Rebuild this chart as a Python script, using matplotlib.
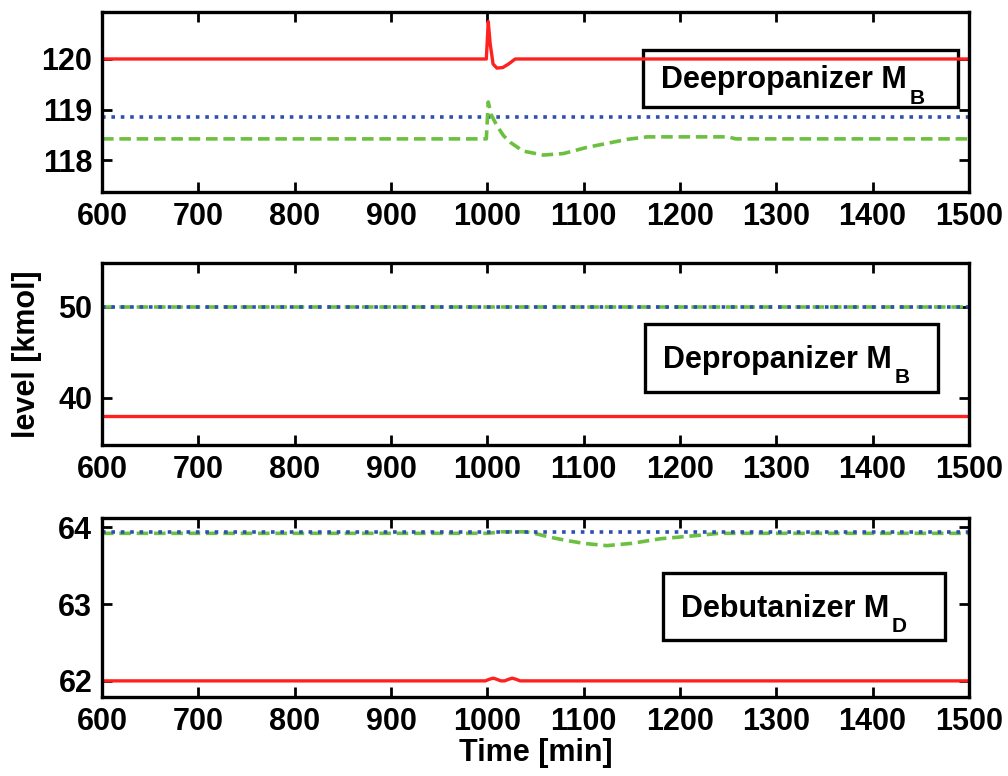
import matplotlib
matplotlib.use('Agg')
import matplotlib.pyplot as plt
from matplotlib.patches import Rectangle

plt.rcParams['font.family'] = ['Liberation Sans', 'DejaVu Sans']
plt.rcParams['font.weight'] = 'bold'

# time grid for steady lines
t_flat = [600, 1500]

# deepropanizer bottom holdup
dp_red_t = [600, 999, 1001, 1003, 1006, 1010, 1016, 1022, 1029, 1500]
dp_red_v = [120.0, 120.0, 120.74, 120.3, 119.9, 119.82, 119.83, 119.9, 120.0, 120.0]
dp_blue_v = [118.86, 118.86]
dp_green_t = [600, 999, 1001, 1004, 1010, 1017, 1024, 1037, 1058, 1079, 1103,
              1124, 1145, 1166, 1250, 1258, 1500]
dp_green_v = [118.42, 118.42, 119.15, 118.9, 118.68, 118.48, 118.35, 118.18, 118.1,
              118.13, 118.25, 118.33, 118.41, 118.46, 118.46, 118.42, 118.42]

# depropanizer bottom holdup
dq_red_v = [38.0, 38.0]
dq_blue_v = [50.0, 50.0]
dq_green_v = [50.0, 50.0]

# debutanizer distillate holdup
db_red_t = [600, 998, 1002, 1006, 1010, 1014, 1018, 1022, 1026, 1030, 1034, 1500]
db_red_v = [62.0, 62.0, 62.02, 62.035, 62.02, 62.0, 62.0, 62.02, 62.035, 62.02, 62.0, 62.0]
db_blue_v = [63.94, 63.94]
db_green_t = [600, 1000, 1015, 1040, 1049, 1065, 1081, 1100, 1124, 1150, 1180,
              1207, 1225, 1240, 1500]
db_green_v = [63.92, 63.92, 63.94, 63.94, 63.92, 63.87, 63.83, 63.79, 63.76, 63.79,
              63.85, 63.88, 63.9, 63.92, 63.92]

xticks = [600, 700, 800, 900, 1000, 1100, 1200, 1300, 1400, 1500]

RED = '#ff2020'
GREEN = '#6cc040'
BLUE = '#2c4fb0'
FS = 22

fig = plt.figure(figsize=(10.08, 7.76), dpi=100)
ax1 = fig.add_axes([0.1012, 0.7526, 0.860, 0.232])
ax2 = fig.add_axes([0.1012, 0.4265, 0.860, 0.2345])
ax3 = fig.add_axes([0.1012, 0.1018, 0.860, 0.2307])

ax1.plot(t_flat, dp_blue_v, color=BLUE, ls=(0, (1, 1.6)), lw=2.6)
ax1.plot(dp_green_t, dp_green_v, color=GREEN, ls=(0, (3.2, 1.6)), lw=2.6)
ax1.plot(dp_red_t, dp_red_v, color=RED, lw=2.4)
ax1.set_ylim(117.37, 120.93)
ax1.set_yticks([118, 119, 120])

ax2.plot(t_flat, dq_green_v, color=GREEN, ls=(0, (3.2, 1.6)), lw=2.6)
ax2.plot(t_flat, dq_blue_v, color=BLUE, ls=(0, (1, 1.6)), lw=2.6)
ax2.plot(t_flat, dq_red_v, color=RED, lw=2.4)
ax2.set_ylim(34.8, 54.8)
ax2.set_yticks([40, 50])
ax2.set_ylabel('level [kmol]', fontsize=FS, fontweight='bold', labelpad=12)

ax3.plot(db_green_t, db_green_v, color=GREEN, ls=(0, (3.2, 1.6)), lw=2.6)
ax3.plot(t_flat, db_blue_v, color=BLUE, ls=(0, (1, 1.6)), lw=2.6)
ax3.plot(db_red_t, db_red_v, color=RED, lw=2.4)
ax3.set_ylim(61.79, 64.12)
ax3.set_yticks([62, 63, 64])
ax3.set_xlabel('Time [min]', fontsize=FS, fontweight='bold', labelpad=1)

# label boxes: (axes, box in axes fraction, text, subscript)
boxes = [
    (ax1, (0.6240, 0.4722, 0.3633, 0.3167), 'Deepropanizer M', 'B'),
    (ax2, (0.6263, 0.2912, 0.3379, 0.3736), 'Depropanizer M', 'B'),
    (ax3, (0.6470, 0.3170, 0.3253, 0.3743), 'Debutanizer M', 'D'),
]
for ax, (x0, y0, w, h), label, sub in boxes:
    ax.add_patch(Rectangle((x0, y0), w, h, transform=ax.transAxes, facecolor='white',
                           edgecolor='black', lw=2.4, zorder=1.5))
    ax_h = ax.get_position().height * fig.get_figheight() * fig.dpi
    ax_w = ax.get_position().width * fig.get_figwidth() * fig.dpi
    t = ax.text(x0 + 18 / ax_w, y0 + h / 2 - 10 / ax_h, label, transform=ax.transAxes,
                ha='left', va='baseline', fontsize=FS, fontweight='bold', zorder=3)
    ax.annotate(sub, xy=(1, 0), xycoords=t, xytext=(2, -6), textcoords='offset points',
                ha='left', va='baseline', fontsize=15, fontweight='bold', zorder=3)

for ax in (ax1, ax2, ax3):
    ax.set_xlim(600, 1500)
    ax.set_xticks(xticks)
    ax.tick_params(direction='in', length=7, width=2, top=True, right=True,
                   labelsize=FS, pad=7)
    for lab in ax.get_xticklabels() + ax.get_yticklabels():
        lab.set_fontweight('bold')
    for sp in ax.spines.values():
        sp.set_linewidth(2.4)

fig.savefig('out.png', dpi=100)
